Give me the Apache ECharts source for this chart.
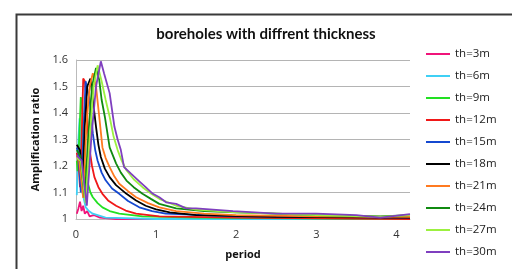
<!DOCTYPE html>
<html>
<head>
<meta charset="utf-8">
<script src="https://cdn.jsdelivr.net/npm/echarts@6/dist/echarts.min.js"></script>
<style>
  html, body { margin: 0; padding: 0; background: #fff; }
  #char { width: 512px; height: 269px; }
</style>
</head>
<body>
<div id="char"></div>
<script>
// legend names and colours
var seriesNames = ['th=3m', 'th=6m', 'th=9m', 'th=12m', 'th=15m', 'th=18m', 'th=21m', 'th=24m', 'th=27m', 'th=30m']
var colorList = ['#f0147a', '#3fd0f5', '#22e022', '#f01818', '#1448d0', '#000000', '#ff7a20', '#108a10', '#9cf040', '#7f3fbf']

// [period, amplification ratio]
var th3 = [[0.01, 1.02], [0.03, 1.04], [0.05, 1.065], [0.07, 1.03], [0.09, 1.05], [0.11, 1.02], [0.14, 1.03], [0.17, 1.01], [0.22, 1.015], [0.3, 1.005], [0.5, 1.0], [1, 1.0], [2, 1.0], [2.37, 1.006], [2.45, 1.0], [4.17, 1.0]]
var th6 = [[0.01, 1.09], [0.03, 1.3], [0.045, 1.38], [0.06, 1.2], [0.08, 1.1], [0.12, 1.045], [0.16, 1.03], [0.21, 1.02], [0.37, 1.005], [1, 1.0], [4.17, 1.0]]
var th9 = [[0.01, 1.22], [0.02, 1.18], [0.04, 1.3], [0.06, 1.46], [0.075, 1.44], [0.09, 1.3], [0.11, 1.2], [0.15, 1.133], [0.18, 1.1], [0.21, 1.082], [0.27, 1.06], [0.33, 1.044], [0.42, 1.03], [0.54, 1.02], [0.83, 1.01], [1.5, 1.005], [4.17, 1.0]]
var th12 = [[0.01, 1.25], [0.03, 1.22], [0.05, 1.12], [0.07, 1.3], [0.09, 1.53], [0.11, 1.52], [0.13, 1.45], [0.15, 1.33], [0.17, 1.26], [0.2, 1.2], [0.23, 1.158], [0.28, 1.12], [0.33, 1.095], [0.4, 1.07], [0.5, 1.05], [0.62, 1.032], [0.75, 1.02], [1.04, 1.01], [2, 1.005], [4.17, 1.0]]
var th15 = [[0.01, 1.27], [0.03, 1.25], [0.06, 1.1], [0.09, 1.3], [0.12, 1.52], [0.14, 1.52], [0.17, 1.45], [0.21, 1.323], [0.24, 1.26], [0.27, 1.22], [0.32, 1.175], [0.37, 1.146], [0.45, 1.115], [0.54, 1.095], [0.65, 1.068], [0.79, 1.044], [0.95, 1.03], [1.12, 1.02], [2, 1.01], [4.17, 1.005]]
var th18 = [[0.01, 1.28], [0.03, 1.27], [0.05, 1.26], [0.08, 1.12], [0.11, 1.35], [0.14, 1.5], [0.18, 1.53], [0.21, 1.45], [0.25, 1.348], [0.28, 1.28], [0.31, 1.234], [0.36, 1.19], [0.42, 1.158], [0.5, 1.128], [0.63, 1.095], [0.75, 1.07], [0.87, 1.05], [1.0, 1.036], [1.17, 1.025], [1.5, 1.015], [2.5, 1.008], [4.17, 1.005]]
var th21 = [[0.01, 1.24], [0.04, 1.22], [0.09, 1.08], [0.13, 1.35], [0.17, 1.5], [0.21, 1.55], [0.25, 1.5], [0.29, 1.386], [0.33, 1.27], [0.37, 1.23], [0.42, 1.196], [0.48, 1.16], [0.54, 1.133], [0.65, 1.105], [0.75, 1.082], [0.9, 1.06], [1.04, 1.044], [1.25, 1.03], [1.6, 1.02], [2, 1.015], [3, 1.01], [4.17, 1.008]]
var th24 = [[0.01, 1.26], [0.05, 1.24], [0.11, 1.08], [0.15, 1.3], [0.2, 1.5], [0.25, 1.57], [0.29, 1.525], [0.32, 1.45], [0.36, 1.386], [0.42, 1.27], [0.5, 1.21], [0.56, 1.175], [0.63, 1.145], [0.72, 1.12], [0.83, 1.095], [0.94, 1.075], [1.04, 1.057], [1.25, 1.04], [1.6, 1.03], [2, 1.025], [2.5, 1.02], [3, 1.015], [3.8, 1.01], [4.17, 1.015]]
var th27 = [[0.01, 1.23], [0.06, 1.22], [0.12, 1.06], [0.17, 1.3], [0.22, 1.5], [0.27, 1.58], [0.32, 1.52], [0.37, 1.45], [0.42, 1.386], [0.47, 1.31], [0.52, 1.26], [0.57, 1.22], [0.63, 1.184], [0.72, 1.15], [0.83, 1.12], [0.94, 1.095], [1.04, 1.076], [1.25, 1.05], [1.5, 1.035], [2, 1.025], [2.5, 1.02], [3, 1.015], [3.8, 1.008], [4.17, 1.015]]
var th30 = [[0.01, 1.24], [0.07, 1.22], [0.135, 1.05], [0.19, 1.3], [0.25, 1.5], [0.31, 1.595], [0.35, 1.55], [0.42, 1.475], [0.48, 1.348], [0.52, 1.3], [0.56, 1.26], [0.6, 1.196], [0.69, 1.17], [0.78, 1.145], [0.87, 1.12], [0.96, 1.095], [1.04, 1.082], [1.125, 1.063], [1.25, 1.057], [1.375, 1.04], [1.5, 1.04], [1.96, 1.03], [2.5, 1.02], [3, 1.02], [3.5, 1.015], [3.8, 1.005], [4.17, 1.018]]

var seriesData = [th3, th6, th9, th12, th15, th18, th21, th24, th27, th30]
var xTicks = [0, 1, 2, 3, 4]
var yTicks = [1, 1.1, 1.2, 1.3, 1.4, 1.5, 1.6]

var barEchart = echarts.init(document.getElementById('char'))

var series = seriesNames.map(function (name, i) {
  return {
    name: name,
    type: 'line',
    symbol: 'none',
    color: colorList[i],
    lineStyle: { width: 1.8, color: colorList[i] },
    data: seriesData[i]
  }
})

var option = {
  backgroundColor: '#ffffff',
  animation: false,
  textStyle: { fontFamily: 'Open Sans' },
  title: {
    text: 'boreholes with diffrent thickness',
    left: 261,
    top: 22,
    textAlign: 'center',
    textStyle: { fontSize: 15, fontWeight: 'bold', color: '#111', fontFamily: 'Lato' }
  },
  graphic: [{
    type: 'rect',
    left: 14,
    top: 12,
    shape: { width: 600, height: 400 },
    style: { fill: 'none', stroke: '#3a3a3a', lineWidth: 2 }
  }],
  legend: {
    orient: 'vertical',
    left: 426,
    top: 48,
    padding: 0,
    itemWidth: 24,
    itemHeight: 12,
    itemGap: 10,
    icon: 'path://M0,0 L24,0 L24,2 L0,2 Z',
    textStyle: { fontSize: 11.5, lineHeight: 12, color: '#222' },
    data: seriesNames
  },
  grid: {
    left: 76,
    top: 60,
    right: 102,
    bottom: 50
  },
  xAxis: {
    type: 'value',
    min: 0,
    max: 4.17,
    interval: 1,
    name: 'period',
    nameLocation: 'middle',
    nameGap: 30,
    nameTextStyle: { fontSize: 11, fontWeight: 'bold', color: '#111' },
    axisLine: { show: true, lineStyle: { color: '#bbb' } },
    axisTick: { show: false },
    splitLine: { show: false },
    axisLabel: {
      fontSize: 11,
      color: '#333',
      margin: 10,
      showMaxLabel: false,
      formatter: function (v) { return xTicks.indexOf(v) >= 0 ? String(v) : '' }
    }
  },
  yAxis: {
    type: 'value',
    min: 1,
    max: 1.6,
    interval: 0.1,
    name: 'Amplification ratio',
    nameLocation: 'middle',
    nameGap: 31,
    nameTextStyle: { fontSize: 11, fontWeight: 'bold', color: '#111' },
    axisLine: { show: true, lineStyle: { color: '#bbb' } },
    axisTick: { show: false },
    splitLine: { show: true, lineStyle: { color: '#b4b4b4' } },
    axisLabel: {
      fontSize: 11,
      color: '#333',
      margin: 8,
      formatter: function (v) {
        var r = Math.round(v * 10) / 10
        return yTicks.indexOf(r) >= 0 ? String(r) : ''
      }
    }
  },
  series: series
}

barEchart.setOption(option)
</script>
</body>
</html>
